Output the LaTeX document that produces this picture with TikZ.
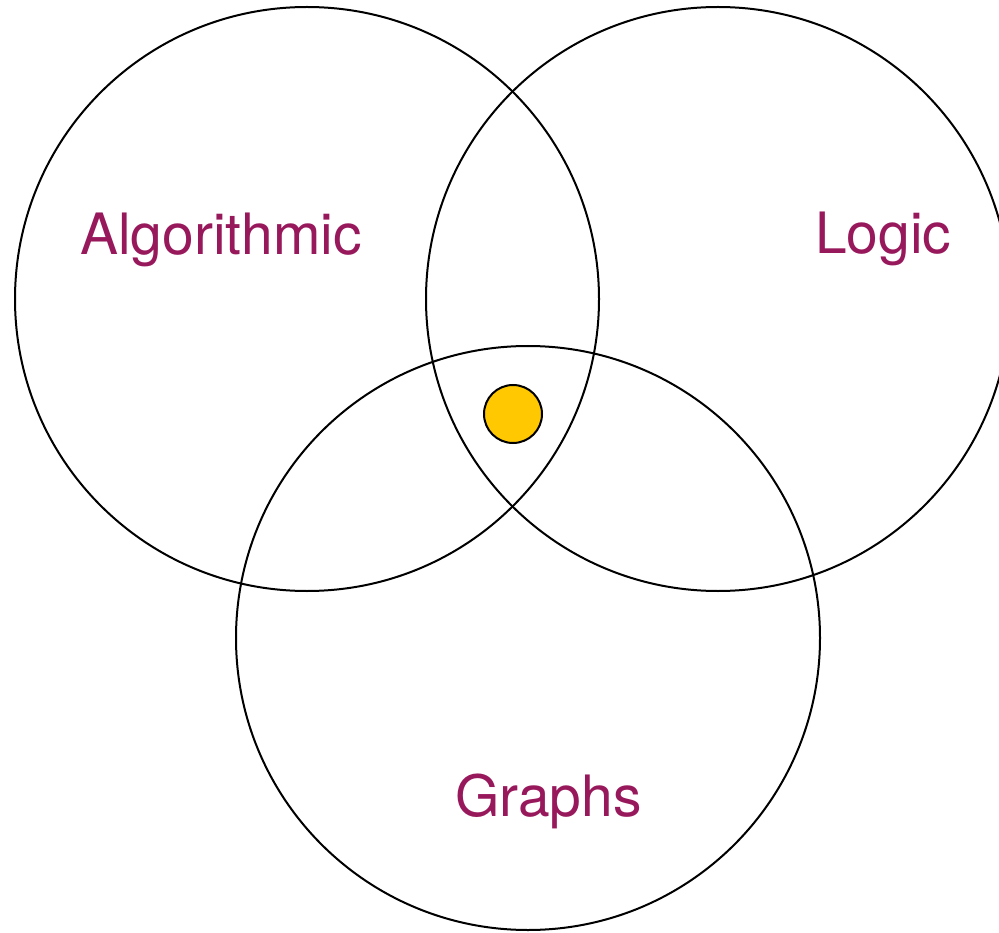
\documentclass[tikz,border=0pt]{standalone}
\usepackage{fontspec}
\setmainfont{TeX Gyre Heros}
\definecolor{labelpurple}{RGB}{152,24,92}
\definecolor{dotyellow}{RGB}{255,200,0}
\begin{document}
\begin{tikzpicture}[x=1pt,y=-1pt,
  setcircle/.style={draw=black,line width=2pt},
  setlabel/.style={text=labelpurple,font=\fontsize{57}{60}\selectfont,anchor=base west,inner sep=0pt}]
\useasboundingbox (0,0) rectangle (999,933);
\draw[setcircle] (307,299) circle[radius=292];
\draw[setcircle] (718,299) circle[radius=292];
\draw[setcircle] (528,638) circle[radius=292];
\node[circle,draw=black,line width=2pt,fill=dotyellow,minimum size=58pt,inner sep=0pt] (dot) at (513,414) {};
\node[setlabel] (alg) at (80,255) {Algorithmic};
\node[setlabel] (logic) at (815,254) {Logic};
\node[setlabel] (graphs) at (455,816) {Graphs};
\end{tikzpicture}
\end{document}
